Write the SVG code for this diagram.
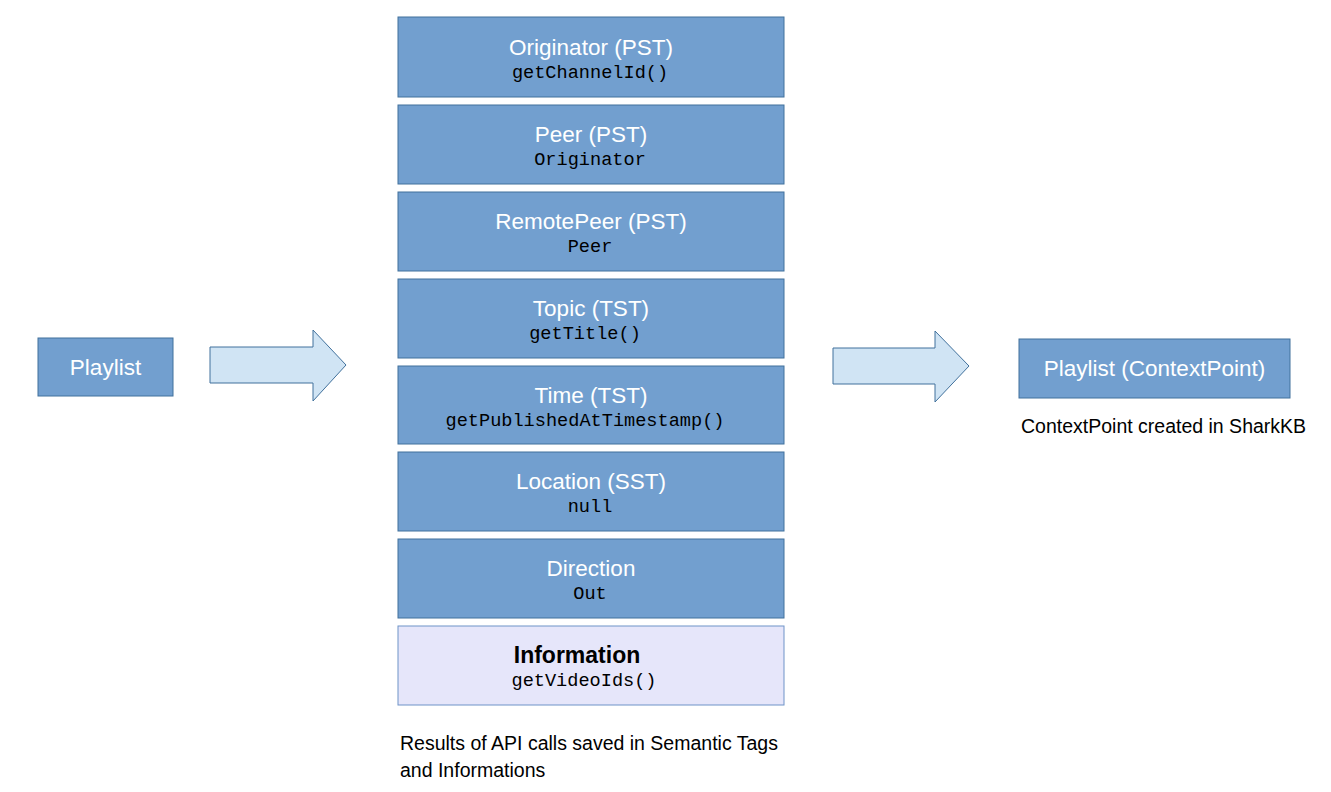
<svg xmlns="http://www.w3.org/2000/svg" width="1331" height="792" viewBox="0 0 1331 792">
<style>
.box{fill:#729fcf;stroke:#41719c;stroke-width:1}
.info{fill:#e6e6fa;stroke:#6f93c8;stroke-width:1}
.arrow{fill:#d0e4f4;stroke:#41719c;stroke-width:1}
.t{font-family:"Liberation Sans",Arial,sans-serif;font-size:22.5px;fill:#ffffff;text-anchor:middle}
.c{font-family:"Liberation Mono","Courier New",monospace;font-size:18.6px;fill:#000000;text-anchor:middle}
.n{font-family:"Liberation Sans",Arial,sans-serif;font-size:19.5px;fill:#000000}
</style>
<rect width="1331" height="792" fill="#ffffff"/>
<g id="playlist"><rect class="box" x="38" y="338" width="135" height="58"/><text class="t" x="105.5" y="375">Playlist</text></g>
<g id="originator"><rect class="box" x="398" y="17" width="386" height="80"/><text class="t" x="591" y="55">Originator (PST)</text><text class="c" x="590" y="78">getChannelId()</text></g>
<g id="peer"><rect class="box" x="398" y="105" width="386" height="79"/><text class="t" x="591" y="142">Peer (PST)</text><text class="c" x="590" y="165">Originator</text></g>
<g id="remotepeer"><rect class="box" x="398" y="192" width="386" height="79"/><text class="t" x="591" y="229">RemotePeer (PST)</text><text class="c" x="590" y="252">Peer</text></g>
<g id="topic"><rect class="box" x="398" y="279" width="386" height="79"/><text class="t" x="591" y="316">Topic (TST)</text><text class="c" x="585" y="339">getTitle()</text></g>
<g id="time"><rect class="box" x="398" y="366" width="386" height="78"/><text class="t" x="591" y="403">Time (TST)</text><text class="c" x="585" y="426">getPublishedAtTimestamp()</text></g>
<g id="location"><rect class="box" x="398" y="452" width="386" height="79"/><text class="t" x="591" y="489">Location (SST)</text><text class="c" x="590" y="512">null</text></g>
<g id="direction"><rect class="box" x="398" y="539" width="386" height="79"/><text class="t" x="591" y="576">Direction</text><text class="c" x="590" y="599">Out</text></g>
<g id="information"><rect class="info" x="398" y="626" width="386" height="79"/><text x="577" y="663" style="font-family:'Liberation Sans',Arial,sans-serif;font-size:23px;font-weight:bold;fill:#000;text-anchor:middle">Information</text><text class="c" x="584" y="686">getVideoIds()</text></g>
<g id="contextpoint"><rect class="box" x="1019" y="339" width="271" height="59"/><text class="t" x="1154.5" y="376">Playlist (ContextPoint)</text></g>
<g id="connectors">
<path class="arrow" d="M210,347 H313 V330 L346,365 L313,401 V383 H210 Z"/>
<path class="arrow" d="M833,348 H935 V331 L969,366 L935,402 V384 H833 Z"/>
</g>
<text class="n" x="1021" y="433">ContextPoint created in SharkKB</text>
<text class="n" x="400" y="750">Results of API calls saved in Semantic Tags</text>
<text class="n" x="400" y="777">and Informations</text>
</svg>
